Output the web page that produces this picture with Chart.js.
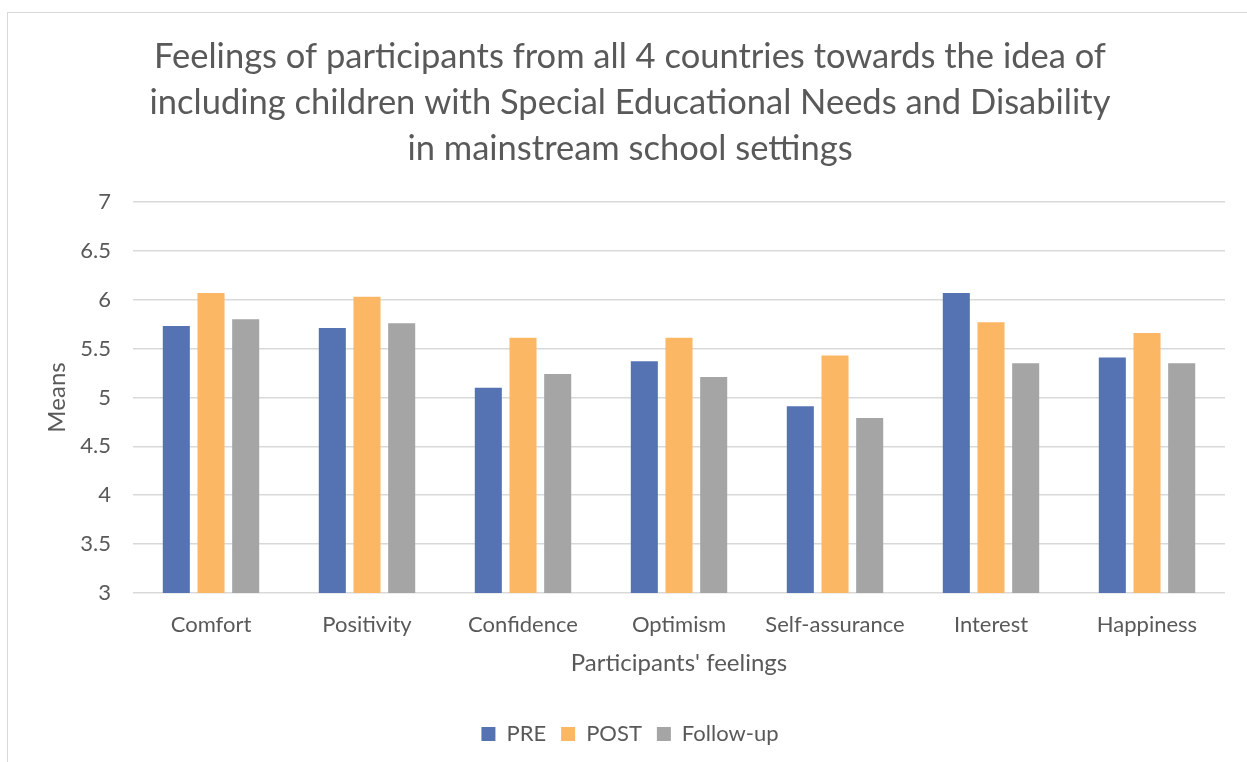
<!DOCTYPE html>
<html>
<head>
<meta charset="utf-8">
<script src="https://cdn.jsdelivr.net/npm/chart.js@4"></script>
<style>
  html, body { margin: 0; padding: 0; background: #fff; }
  #frame {
    position: absolute; left: 7px; top: 12px; width: 1260px; height: 770px;
    border-left: 1px solid #d9d9d9; border-top: 1px solid #d9d9d9;
  }
  #wrap { position: absolute; left: 0; top: 0; width: 1244px; height: 748px; }
</style>
</head>
<body>
<div id="frame"><div id="wrap"><canvas id="chart"></canvas></div></div>
<script>
const categories = ['Comfort', 'Positivity', 'Confidence', 'Optimism', 'Self-assurance', 'Interest', 'Happiness'];
const preValues = [5.73, 5.71, 5.10, 5.37, 4.91, 6.07, 5.41];
const postValues = [6.07, 6.03, 5.61, 5.61, 5.43, 5.77, 5.66];
const followUpValues = [5.80, 5.76, 5.24, 5.21, 4.79, 5.35, 5.35];
const titleLines = [
  'Feelings of participants from all 4 countries towards the idea of',
  'including children with Special Educational Needs and Disability',
  'in mainstream school settings'
];

const FONT = 'Lato, "Open Sans", sans-serif';
const TEXT = '#595959';

const series = [
  { label: 'PRE', data: preValues, color: '#5573b3' },
  { label: 'POST', data: postValues, color: '#fbb763' },
  { label: 'Follow-up', data: followUpValues, color: '#a5a5a5' }
];

new Chart(document.getElementById('chart'), {
  type: 'bar',
  data: {
    labels: categories,
    datasets: series.map(s => ({
      label: s.label,
      data: s.data,
      backgroundColor: s.color,
      borderWidth: 0,
      categoryPercentage: 0.667,
      barPercentage: 0.78
    }))
  },
  options: {
    responsive: true,
    maintainAspectRatio: false,
    animation: false,
    layout: { padding: { left: 27, right: 27, top: 21, bottom: 6 } },
    plugins: {
      title: {
        display: true,
        text: titleLines,
        color: TEXT,
        font: { family: FONT, size: 34.5, weight: 'normal', lineHeight: 1.333 },
        padding: { top: 0, bottom: 30 }
      },
      legend: {
        position: 'bottom',
        labels: {
          color: TEXT,
          font: { family: FONT, size: 22 },
          boxWidth: 14,
          boxHeight: 14,
          padding: 15
        }
      },
      tooltip: { enabled: false }
    },
    scales: {
      x: {
        afterFit: axis => { axis.height = 115; },
        grid: { display: false },
        border: { display: false },
        ticks: { color: TEXT, font: { family: FONT, size: 22 }, padding: 11 },
        title: {
          display: true, text: "Participants' feelings", color: TEXT,
          font: { family: FONT, size: 24, lineHeight: 1.1 }, padding: { top: 0, bottom: 32 }
        }
      },
      y: {
        min: 3, max: 7,
        afterFit: axis => { axis.width = 98; },
        grid: { color: '#d9d9d9', lineWidth: 1.5, drawTicks: false },
        border: { display: false },
        ticks: {
          stepSize: 0.5, color: TEXT, font: { family: FONT, size: 22 }, padding: 22,
          callback: v => String(+v.toFixed(1))
        },
        title: {
          display: true, text: 'Means', color: TEXT,
          font: { family: FONT, size: 24 }, padding: { top: 8, bottom: 0 }
        }
      }
    }
  }
});
</script>
</body>
</html>
